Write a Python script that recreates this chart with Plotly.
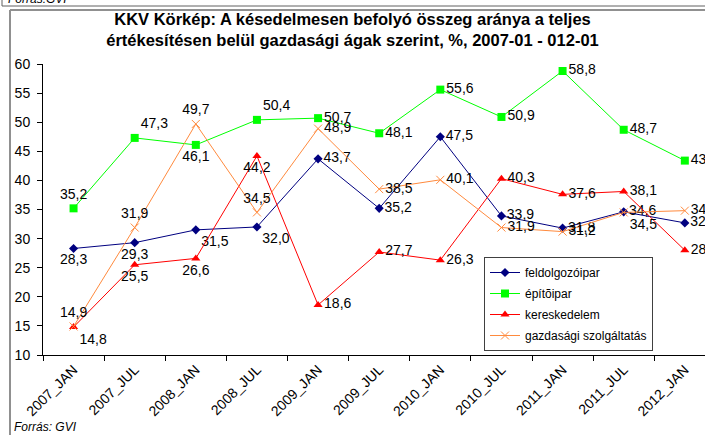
import plotly.graph_objects as go

categories = ["2007_JAN", "2007_JUL", "2008_JAN", "2008_JUL", "2009_JAN", "2009_JUL",
              "2010_JAN", "2010_JUL", "2011_JAN", "2011_JUL", "2012_JAN"]
feldolgozoipar = [28.3, 29.3, 31.5, 32.0, 43.7, 35.2, 47.5, 33.9, 31.8, 34.6, 32.7]
epitoipar = [35.2, 47.3, 46.1, 50.4, 50.7, 48.1, 55.6, 50.9, 58.8, 48.7, 43.4]
kereskedelem = [14.8, 25.5, 26.6, 44.2, 18.6, 27.7, 26.3, 40.3, 37.6, 38.1, 28.0]
szolgaltatas = [14.9, 31.9, 49.7, 34.5, 48.9, 38.5, 40.1, 31.9, 31.2, 34.5, 34.8]
y_ticks = [10, 15, 20, 25, 30, 35, 40, 45, 50, 55, 60]

W, H = 705, 435
L, R, T, B = 43, 705, 64, 355  # plot area in pixels


def px(x):
    return (x - L) / (R - L)


def py(y):
    return (B - y) / (B - T)


def lab(vals):
    return [f"{v:.1f}".replace(".", ",") for v in vals]


pos_feld = ["bottom center", "bottom center", "bottom right", "bottom right"] + ["middle right"] * 7
pos_epit = ["top center", "top right", "bottom center", "top right"] + ["middle right"] * 7
pos_ker = ["bottom right", "bottom center", "bottom center", "bottom center"] + ["middle right"] * 7
pos_szolg = ["top center", "top center", "top center", "top center"] + ["middle right"] * 5 + \
            ["bottom right", "middle right"]

FONT = "Liberation Sans, Arial"
lab_font = dict(family=FONT, size=14, color="black")

fig = go.Figure()
fig.add_trace(go.Scatter(
    x=categories, y=feldolgozoipar, name="feldolgozóipar", mode="lines+markers+text",
    legendgroup="a",
    line=dict(color="#000080", width=1), marker=dict(symbol="diamond", size=7, color="#000080"),
    text=lab(feldolgozoipar), textposition=pos_feld, textfont=lab_font))
fig.add_trace(go.Scatter(
    x=categories, y=epitoipar, name="építõipar", mode="lines+markers+text",
    legendgroup="b",
    line=dict(color="#00FF00", width=1), marker=dict(symbol="square", size=8, color="#00FF00"),
    text=lab(epitoipar), textposition=pos_epit, textfont=lab_font))
fig.add_trace(go.Scatter(
    x=categories, y=kereskedelem, name="kereskedelem", mode="lines+markers+text",
    legendgroup="c",
    line=dict(color="#FF0000", width=1), marker=dict(symbol="triangle-up", size=8, color="#FF0000"),
    text=lab(kereskedelem), textposition=pos_ker, textfont=lab_font))
fig.add_trace(go.Scatter(
    x=categories, y=szolgaltatas, name="gazdasági szolgáltatás", mode="lines+markers+text",
    legendgroup="d",
    line=dict(color="#FF8A3D", width=1),
    marker=dict(symbol="x-thin", size=8, color="#FF8A3D", line=dict(color="#FF8A3D", width=1)),
    text=lab(szolgaltatas), textposition=pos_szolg, textfont=lab_font))

frame = "#909090"
shapes = [
    dict(type="line", xref="paper", yref="paper", x0=px(10), x1=px(W + 5), y0=py(10), y1=py(10),
         line=dict(color=frame, width=2)),
    dict(type="line", xref="paper", yref="paper", x0=px(10), x1=px(10), y0=py(10), y1=py(H + 5),
         line=dict(color=frame, width=2)),
    dict(type="line", xref="paper", yref="paper", x0=px(2), x1=px(W + 5), y0=py(6), y1=py(6),
         line=dict(color="#606060", width=1)),
    dict(type="line", xref="paper", yref="paper", x0=px(2), x1=px(2), y0=py(-5), y1=py(6),
         line=dict(color="#606060", width=1)),
]

annotations = [
    dict(text="Forrás: GVI", xref="paper", yref="paper", x=px(12), y=py(427),
         xanchor="left", yanchor="middle", showarrow=False,
         font=dict(family=FONT, size=12, color="black", style="italic")),
    dict(text="Forrás:GVI", xref="paper", yref="paper", x=px(6), y=py(-1),
         xanchor="left", yanchor="middle", showarrow=False,
         font=dict(family=FONT, size=12, color="black", style="italic")),
]

fig.update_layout(
    width=W, height=H,
    margin=dict(l=L, r=W - R, t=T, b=H - B, pad=0, autoexpand=False),
    paper_bgcolor="white", plot_bgcolor="white",
    font=dict(family=FONT, size=13, color="black"),
    title=dict(
        text="KKV Körkép: A késedelmesen befolyó összeg aránya a teljes<br>"
             "értékesítésen belül gazdasági ágak szerint, %, 2007-01 - 012-01",
        x=0.5, xref="container", xanchor="center", y=1 - 25 / H, yref="container", yanchor="top",
        font=dict(family=FONT, size=16.5, color="black", weight="bold")),
    xaxis=dict(type="category", range=[-0.5, 10.33], tickson="boundaries", ticks="outside",
               ticklen=5, tickcolor="black", showline=True, linecolor="black", linewidth=1,
               showgrid=False, zeroline=False, tickangle=-45, automargin=False,
               tickfont=dict(size=14)),
    yaxis=dict(range=[10, 60], tickvals=y_ticks, ticks="outside", ticklen=5, tickcolor="black",
               showline=True, linecolor="black", linewidth=1, showgrid=False, zeroline=False,
               automargin=False, tickfont=dict(size=14), ticklabelstandoff=4),
    legend=dict(x=px(484), y=py(257), xanchor="left", yanchor="top",
                bordercolor="#404040", borderwidth=1, bgcolor="white",
                font=dict(size=12), itemwidth=30, tracegroupgap=2),
    shapes=shapes, annotations=annotations, showlegend=True,
)

fig.write_html("out.html", config={"displayModeBar": False},
               post_script="document.body.style.margin='0px';document.body.style.overflow='hidden';")
